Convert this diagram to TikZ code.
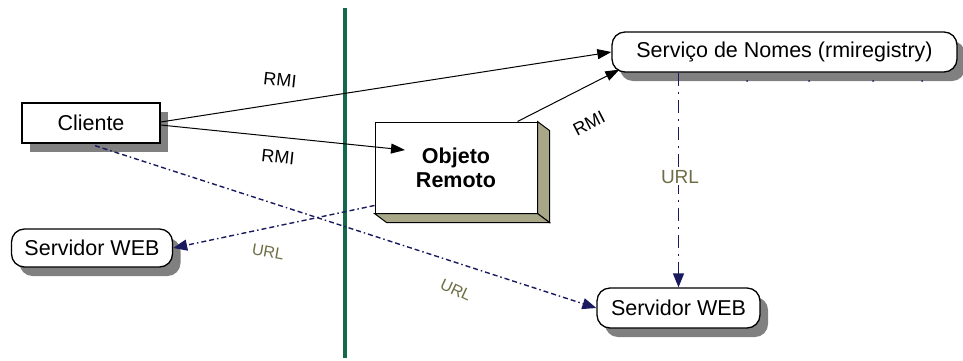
\documentclass[tikz,border=0pt]{standalone}
\usepackage{fontspec}
\setmainfont{Liberation Sans}
\usetikzlibrary{arrows.meta,calc}
\definecolor{wallgreen}{RGB}{20,105,75}
\definecolor{navyline}{RGB}{26,26,94}
\definecolor{olivetxt}{RGB}{110,110,70}
\definecolor{khaki}{RGB}{168,168,136}
\definecolor{shadowgray}{RGB}{128,128,128}
\tikzset{
  boxshadow/.style={preaction={fill=shadowgray,draw=none,transform canvas={xshift=8pt,yshift=-9pt}}},
  plainbox/.style={draw=black,line width=1.3pt,fill=white,inner sep=0pt,font=\fontsize{21.5}{24}\selectfont,boxshadow},
  roundbox/.style={plainbox,rounded corners=13pt},
  objbox/.style={draw=black,line width=1pt,fill=white,inner sep=0pt,align=center,font=\fontsize{21.5}{24}\selectfont\bfseries},
  rmiarrow/.style={draw=black,line width=1pt,-{Triangle[length=14pt,width=10pt]}},
  urlarrow/.style={draw=navyline,line width=1.4pt,dash pattern=on 5pt off 3pt on 5pt off 3pt on 1.5pt off 3pt,-{Triangle[length=14pt,width=11pt]}},
  urlvert/.style={draw=navyline,line width=1.4pt,dash pattern=on 13pt off 6pt on 2pt off 6pt,-{Triangle[length=14pt,width=11pt]}},
  rmilbl/.style={font=\fontsize{18}{20}\selectfont,text=black,inner sep=0pt},
  urllbl/.style={font=\fontsize{16}{18}\selectfont,text=olivetxt,inner sep=0pt},
}
\begin{document}
\begin{tikzpicture}[x=1pt,y=-1pt]
\useasboundingbox (0,0) rectangle (963,360);
\fill[white] (0,0) rectangle (963,360);
% wall
\draw[wallgreen,line width=4pt] (345,8) coordinate (wtop) -- (345,358) coordinate (wbot);
% nodes
\node[plainbox,minimum width=138pt,minimum height=40pt] (cli) at (91,123) {Cliente};
\node[roundbox,minimum width=345pt,minimum height=40pt] (serv) at (784.5,52) {Serviço de Nomes (rmiregistry)};
\node[roundbox,minimum width=161pt,minimum height=38pt] (web1) at (92,248) {Servidor WEB};
\node[roundbox,minimum width=163pt,minimum height=40pt] (web2) at (678.5,308) {Servidor WEB};
% 3D object box
\node[objbox,minimum width=162pt,minimum height=91pt] (obj) at (456,167.5) {Objeto\\Remoto};
\fill[khaki,draw=black,line width=1pt] (obj.north east) -- ($(obj.north east)+(12,9)$) -- ($(obj.south east)+(12,9)$) -- (obj.south east) -- cycle;
\fill[khaki,draw=black,line width=1pt] (obj.south west) -- ($(obj.south west)+(12,9)$) -- ($(obj.south east)+(12,9)$) -- (obj.south east) -- cycle;
\node[objbox,minimum width=162pt,minimum height=91pt] at (obj.center) {Objeto\\Remoto};
% ticks under name service
\foreach \tx in {747,809,873,922} \fill[navyline] (\tx,81) circle (1pt);
% connectors
\coordinate (objin) at (405,150);
\draw[rmiarrow] ($(cli.east)+(0,-1)$) -- (serv.west);
\draw[rmiarrow] ($(cli.east)+(0,2)$) -- (objin);
\draw[rmiarrow] ($(obj.north east)+(-20,0)$) -- ($(serv.south west)+(8,-3)$);
\draw[urlarrow] ($(cli.south)+(4,2)$) -- (web2.west);
\draw[urlarrow] ($(obj.south west)+(0,-8)$) -- (web1.east);
\draw[urlvert] (web2.north |- serv.south) -- (web2.north);
% labels
\node[rmilbl,rotate=-6] (l1) at (280,80) {RMI};
\node[rmilbl,rotate=-6] (l2) at (278,157) {RMI};
\node[rmilbl,rotate=27] (l3) at (589,123) {RMI};
\node[urllbl,rotate=-10] (l4) at (268,252) {URL};
\node[urllbl,rotate=-25] (l5) at (456,290) {URL};
\node[urllbl,font=\fontsize{19}{21}\selectfont,fill=white,inner sep=1pt] (l6) at (680,177) {URL};
\end{tikzpicture}
\end{document}
